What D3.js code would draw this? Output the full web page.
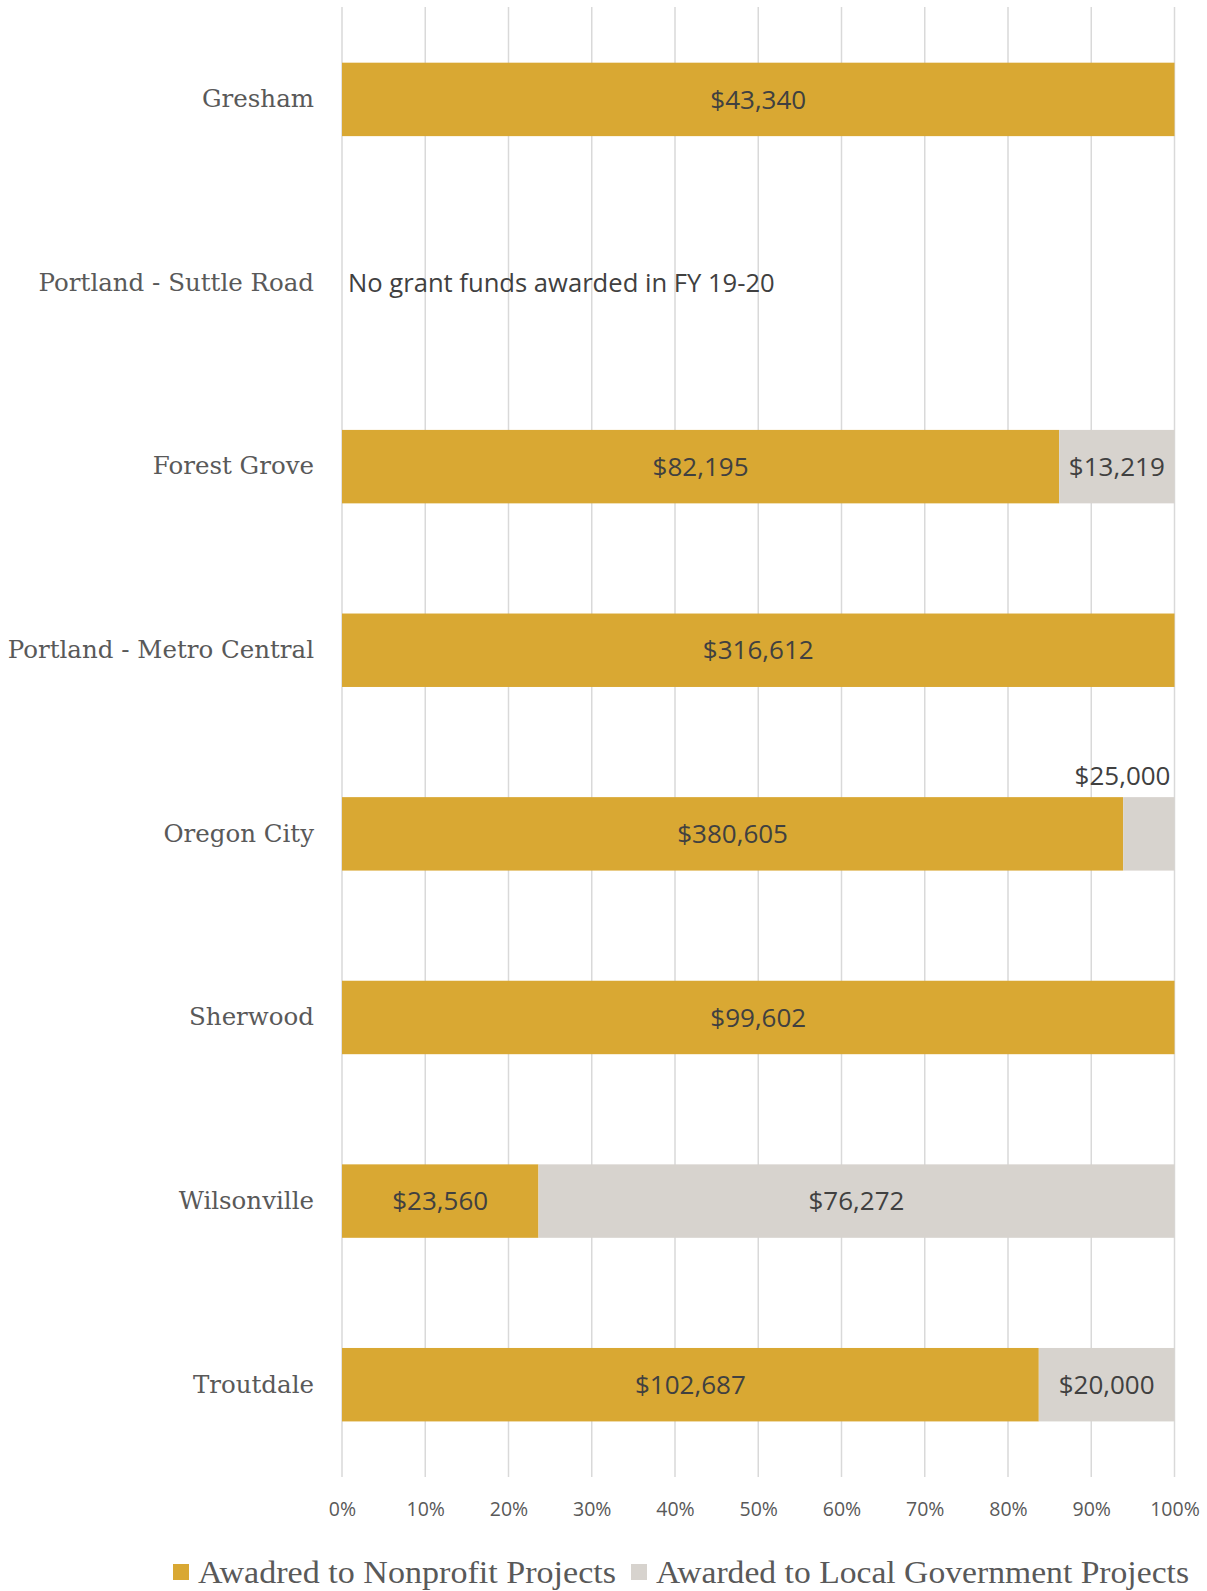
<!DOCTYPE html>
<html>
<head>
<meta charset="utf-8">
<script src="https://cdn.jsdelivr.net/npm/d3@7"></script>
<style>
  body { margin: 0; background: #fff; }
  svg { display: block; }
</style>
</head>
<body>
<svg width="1207" height="1591"></svg>
<script>
const categories = ['Gresham', 'Portland - Suttle Road', 'Forest Grove', 'Portland - Metro Central',
  'Oregon City', 'Sherwood', 'Wilsonville', 'Troutdale'];
const nonprofit = [43340, 0, 82195, 316612, 380605, 99602, 23560, 102687];
const localGov = [0, 0, 13219, 0, 25000, 0, 76272, 20000];
const seriesNames = ['Awadred to Nonprofit Projects', 'Awarded to Local Government Projects'];
const tickValues = [0, 0.1, 0.2, 0.3, 0.4, 0.5, 0.6, 0.7, 0.8, 0.9, 1];
const noteText = 'No grant funds awarded in FY 19-20';

const colors = ['#D9A833', '#D7D3CE'];
const svg = d3.select('svg');

const rows = categories.map((c, i) => ({ cat: c, np: nonprofit[i], lg: localGov[i] }));
const stacked = d3.stack().keys(['np', 'lg']).offset(d3.stackOffsetExpand)(rows);

const x = d3.scaleLinear().domain([0, 1]).range([342, 1174.5]);
const y = d3.scaleBand().domain(categories).range([7.6, 1476.5]).paddingInner(0.6).paddingOuter(0.3);

// grid lines
svg.append('g')
  .selectAll('line')
  .data(tickValues)
  .join('line')
  .attr('x1', d => x(d)).attr('x2', d => x(d))
  .attr('y1', 7).attr('y2', 1477)
  .attr('stroke', '#D9D9D9')
  .attr('stroke-width', 1.5);

// x axis labels
const xAxis = d3.axisBottom(x).tickValues(tickValues).tickFormat(d3.format('.0%')).tickSize(0);
svg.append('g')
  .attr('transform', 'translate(0,1499)')
  .call(xAxis)
  .call(g => g.select('.domain').remove())
  .selectAll('text')
  .attr('fill', '#595959')
  .style('font-family', '"Open Sans", sans-serif')
  .style('font-size', '19.5px');

// y axis labels
const yAxis = d3.axisLeft(y).tickSize(0).tickPadding(0);
svg.append('g')
  .attr('transform', 'translate(314,0)')
  .call(yAxis)
  .call(g => g.select('.domain').remove())
  .selectAll('text')
  .attr('fill', '#595959')
  .attr('dy', '0.32em')
  .style('font-family', '"DejaVu Serif", serif')
  .style('font-size', '24.5px');

// bars
const layers = svg.append('g')
  .selectAll('g')
  .data(stacked)
  .join('g')
  .attr('fill', (d, i) => colors[i]);

layers.selectAll('rect')
  .data(d => d.map(p => ({ p, key: d.key })))
  .join('rect')
  .attr('x', d => x(d.p[0] || 0))
  .attr('width', d => Math.max(0, x(d.p[1] || 0) - x(d.p[0] || 0)))
  .attr('y', d => y(d.p.data.cat))
  .attr('height', y.bandwidth());

// data labels
const fmt = v => '$' + d3.format(',')(v);
const labels = svg.append('g')
  .style('font-family', '"Open Sans", sans-serif')
  .style('font-size', '26px')
  .attr('fill', '#404040');

stacked.forEach(layer => {
  layer.forEach(p => {
    const v = p.data[layer.key];
    if (!v) return;
    const x0 = x(p[0]), x1 = x(p[1]);
    const cy = y(p.data.cat) + y.bandwidth() / 2;
    if (x1 - x0 > 110) {
      labels.append('text')
        .attr('x', (x0 + x1) / 2)
        .attr('y', cy)
        .attr('dy', '0.35em')
        .attr('text-anchor', 'middle')
        .text(fmt(v));
    } else {
      labels.append('text')
        .attr('x', x1 - 4)
        .attr('y', y(p.data.cat) - 21)
        .attr('dy', '0.35em')
        .attr('text-anchor', 'end')
        .text(fmt(v));
    }
  });
});

// note for empty row
rows.forEach(r => {
  if (!r.np && !r.lg) {
    labels.append('text')
      .attr('x', x(0) + 6)
      .attr('y', y(r.cat) + y.bandwidth() / 2)
      .attr('dy', '0.35em')
      .style('font-size', '25.6px')
      .text(noteText);
  }
});

// legend
const legend = svg.append('g')
  .style('font-family', '"Liberation Serif", serif')
  .style('font-size', '32px')
  .attr('fill', '#595959');
const legendX = [173, 631];
const legendW = [418, 533];
seriesNames.forEach((name, i) => {
  legend.append('rect')
    .attr('x', legendX[i]).attr('y', 1564)
    .attr('width', 16).attr('height', 16)
    .attr('fill', colors[i]);
  legend.append('text')
    .attr('x', legendX[i] + 25)
    .attr('y', 1572)
    .attr('dy', '0.35em')
    .attr('textLength', legendW[i])
    .attr('lengthAdjust', 'spacingAndGlyphs')
    .text(name);
});
</script>
</body>
</html>
